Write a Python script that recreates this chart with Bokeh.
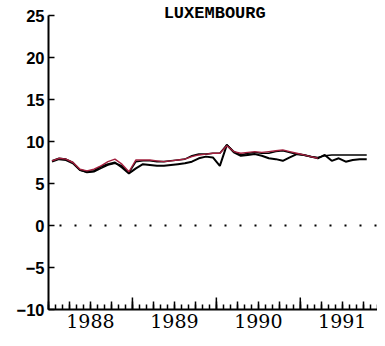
import math
from bokeh.plotting import figure
from bokeh.models import FixedTicker, Span, Label, Range1d
from bokeh.embed import file_html
from bokeh.resources import INLINE

# ---- data (monthly observations, Jan 1988 ...) ----
start_year = 1988
series_a = [7.6, 7.9, 7.8, 7.4, 6.6, 6.4, 6.5, 7.0, 7.3, 7.5, 6.9, 6.2,
            6.8, 7.3, 7.2, 7.1, 7.1, 7.2, 7.3, 7.4, 7.6, 8.0, 8.2, 8.1,
            7.1, 9.6, 8.7, 8.3, 8.4, 8.5, 8.3, 8.0, 7.9, 7.7, 8.1, 8.5,
            8.4, 8.2, 8.0, 8.4, 7.7, 8.0, 7.6, 7.8, 7.9, 7.9]
series_b = [7.7, 8.0, 7.9, 7.5, 6.6, 6.3, 6.4, 6.8, 7.2, 7.4, 7.1, 6.3,
            7.6, 7.7, 7.7, 7.6, 7.6, 7.7, 7.8, 7.9, 8.3, 8.5, 8.5, 8.6,
            8.6, 9.6, 8.8, 8.4, 8.6, 8.7, 8.6, 8.6, 8.8, 8.9, 8.7, 8.5,
            8.4, 8.2, 8.1, 8.3, 8.4, 8.4, 8.4, 8.4, 8.4, 8.4]
series_c = [7.7, 8.0, 7.9, 7.5, 6.7, 6.5, 6.7, 7.1, 7.6, 7.9, 7.3, 6.4,
            7.8, 7.8, 7.8, 7.7, 7.6, 7.7, 7.8, 7.9, 8.2, 8.4, 8.5, 8.6,
            8.6, 9.5, 8.8, 8.6, 8.7, 8.8, 8.7, 8.8, 8.9, 9.0, 8.8, 8.6,
            8.4, 8.2, 8.0]
year_labels = ["1988", "1989", "1990", "1991"]
y_ticks = [-10, -5, 0, 5, 10, 15, 20, 25]
y_min, y_max = -10, 25
title_text = "LUXEMBOURG"

def month_x(n):
    return [start_year + (i + 0.5) / 12.0 for i in range(n)]

xa = month_x(len(series_a))
xb = month_x(len(series_b))
xc = month_x(len(series_c))

years = [start_year + k for k in range(len(year_labels) + 1)]
quarters = [start_year + q / 4.0 for q in range(16)]
months = [start_year + m / 12.0 for m in range(48)]

# frame reaches the canvas top so the title can sit inside it;
# the y axis line itself is bounded to -10..25
FRAME_H = 309
AXIS_H = 294
y_top = y_max + (FRAME_H - AXIS_H) * (y_max - y_min) / AXIS_H

p = figure(frame_width=329, frame_height=FRAME_H, output_backend="svg",
           toolbar_location=None,
           x_range=Range1d(1988.0, 1991.92), y_range=Range1d(y_min, y_top),
           min_border_left=48, min_border_top=0, min_border_bottom=29,
           min_border_right=0, border_fill_color="white",
           background_fill_color="white")
p.outline_line_color = None
p.grid.visible = False

# axes
xa_ax = p.xaxis[0]
xa_ax.ticker = FixedTicker(ticks=quarters, minor_ticks=months)
overrides = {q: "" for q in quarters}
for k, lab in enumerate(year_labels):
    overrides[start_year + k + 0.5] = lab
xa_ax.major_label_overrides = overrides
xa_ax.major_tick_in = 8
xa_ax.major_tick_out = 0
xa_ax.minor_tick_in = 5
xa_ax.minor_tick_out = 0
xa_ax.axis_line_width = 2
xa_ax.major_tick_line_width = 1.5
xa_ax.minor_tick_line_width = 1.5
xa_ax.major_label_text_font = "DejaVu Serif"
xa_ax.major_label_text_font_size = "19px"
xa_ax.major_label_text_color = "black"
xa_ax.major_label_standoff = 4

ya_ax = p.yaxis[0]
ya_ax.bounds = (y_min, y_max)
ya_ax.ticker = FixedTicker(ticks=y_ticks, minor_ticks=[])
ya_ax.major_label_overrides = {t: (str(t).replace("-", "\u2212")) for t in y_ticks}
ya_ax.major_tick_in = 6
ya_ax.major_tick_out = 0
ya_ax.axis_line_width = 2
ya_ax.major_tick_line_width = 1.5
ya_ax.major_label_text_font = "Liberation Sans"
ya_ax.major_label_text_font_style = "bold"
ya_ax.major_label_text_font_size = "16.5px"
ya_ax.major_label_text_color = "black"
ya_ax.major_label_standoff = 4

# taller year ticks
p.ray(x=years[1:], y=[y_min] * (len(years) - 1), length=12, length_units="screen",
      angle=math.pi / 2, line_color="black", line_width=1.5)

# zero reference line (dotted)
p.add_layout(Span(location=0, dimension="width", line_color="black",
                  line_width=2, line_dash="2 13", line_dash_offset=-11))

# series
p.line(xa, series_a, line_color="black", line_width=2)
p.line(xb, series_b, line_color="black", line_width=1.6)
p.line(xc, series_c, line_color="#a3203e", line_width=1.4)

# title
p.add_layout(Label(x=1989.98, y=25.24, text=title_text, text_align="center",
                   text_baseline="alphabetic", text_font="Liberation Mono",
                   text_font_style="bold", text_font_size="17px",
                   text_color="black"))

open("out.html", "w").write(file_html(p, INLINE))
